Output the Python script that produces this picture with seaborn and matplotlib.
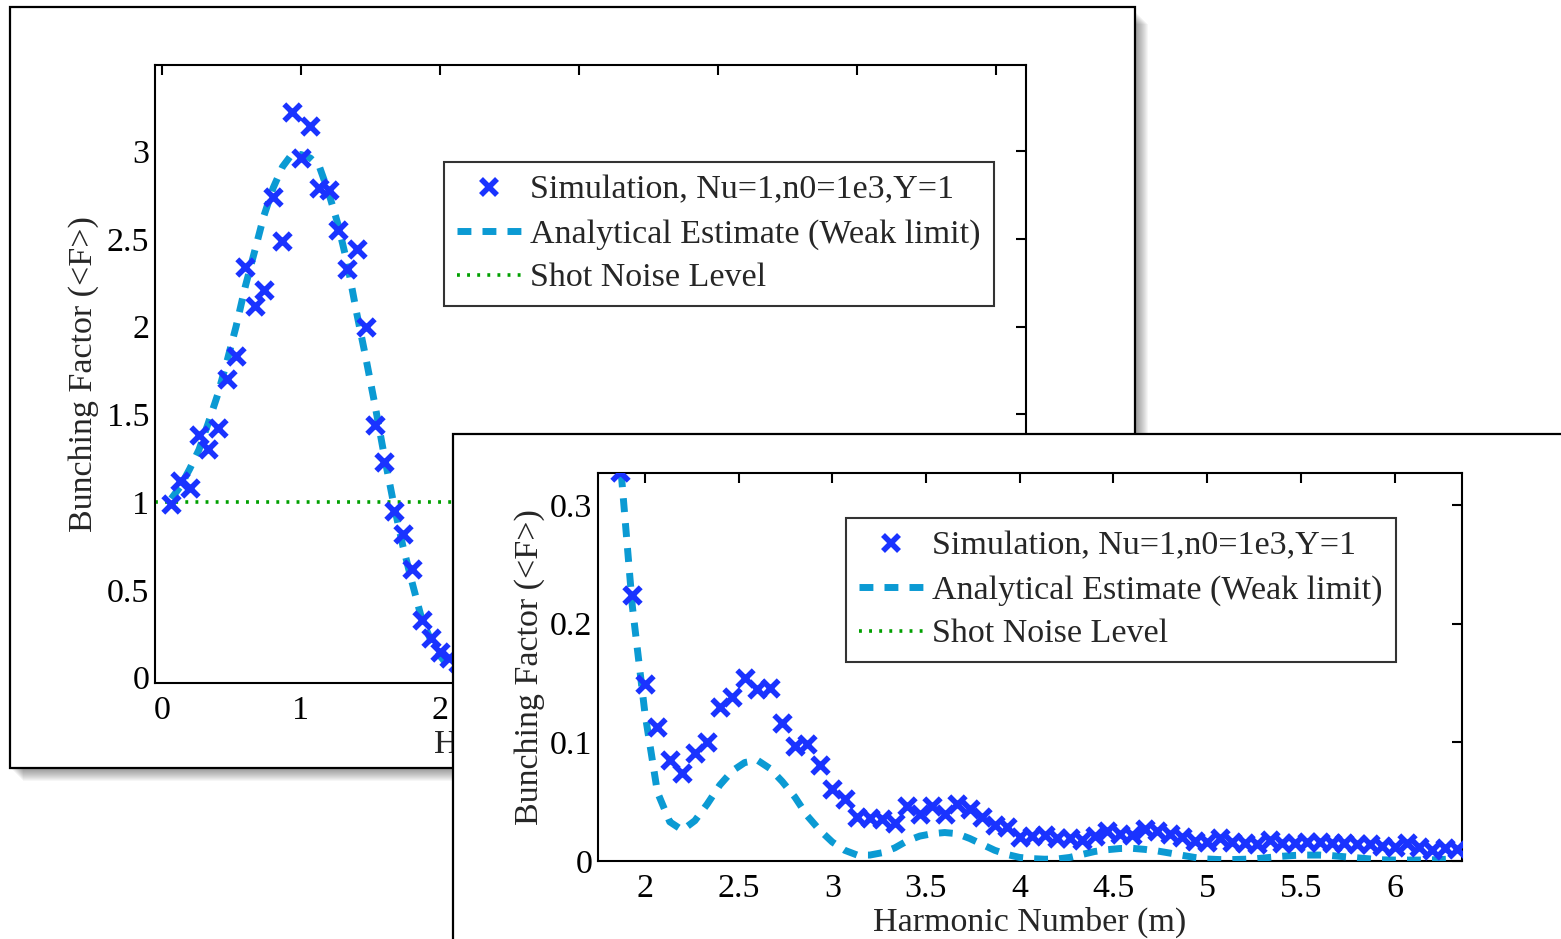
import matplotlib
matplotlib.use("Agg")
import matplotlib.pyplot as plt
import seaborn as sns
import numpy as np
from matplotlib.patches import Rectangle
from matplotlib.lines import Line2D
from matplotlib.ticker import FixedLocator, FixedFormatter

# harmonic numbers (m) of the simulation samples
harmonic = [0.067, 0.133, 0.2, 0.267, 0.333, 0.4, 0.467, 0.533, 0.6, 0.667,
            0.733, 0.8, 0.867, 0.933, 1.0, 1.067, 1.133, 1.2, 1.267, 1.333,
            1.4, 1.467, 1.533, 1.6, 1.667, 1.733, 1.8, 1.867, 1.933, 2.0,
            2.067, 2.133, 2.2, 2.267, 2.333, 2.4, 2.467, 2.533, 2.6, 2.667,
            2.733, 2.8, 2.867, 2.933, 3.0, 3.067, 3.133, 3.2, 3.267, 3.333,
            3.4, 3.467, 3.533, 3.6, 3.667, 3.733, 3.8, 3.867, 3.933, 4.0,
            4.067, 4.133, 4.2, 4.267, 4.333, 4.4, 4.467, 4.533, 4.6, 4.667,
            4.733, 4.8, 4.867, 4.933, 5.0, 5.067, 5.133, 5.2, 5.267, 5.333,
            5.4, 5.467, 5.533, 5.6, 5.667, 5.733, 5.8, 5.867, 5.933, 6.0,
            6.067, 6.133, 6.2, 6.267, 6.333]

# simulation, Nu=1, n0=1e3, Y=1
simulation = [0.99, 1.12, 1.08, 1.38, 1.30, 1.42, 1.70, 1.83, 2.34, 2.12,
              2.21, 2.74, 2.49, 3.22, 2.96, 3.14, 2.79, 2.78, 2.55, 2.33,
              2.44, 2.00, 1.44, 1.23, 0.95, 0.82, 0.62, 0.328, 0.224, 0.149,
              0.113, 0.085, 0.074, 0.091, 0.100, 0.130, 0.138, 0.154, 0.145, 0.146,
              0.116, 0.097, 0.099, 0.081, 0.061, 0.052, 0.037, 0.036, 0.035, 0.032,
              0.046, 0.040, 0.046, 0.040, 0.048, 0.044, 0.037, 0.030, 0.029, 0.020,
              0.021, 0.022, 0.019, 0.019, 0.018, 0.021, 0.025, 0.023, 0.022, 0.027,
              0.025, 0.023, 0.020, 0.017, 0.016, 0.019, 0.016, 0.015, 0.014, 0.018,
              0.015, 0.015, 0.016, 0.016, 0.015, 0.015, 0.014, 0.014, 0.013, 0.012,
              0.015, 0.012, 0.009, 0.011, 0.010]

# analytical estimate (weak limit)
analytical = [1.02, 1.09, 1.19, 1.30, 1.45, 1.61, 1.80, 2.00, 2.23, 2.43,
              2.63, 2.79, 2.91, 2.98, 2.98, 2.96, 2.91, 2.76, 2.58, 2.36,
              2.08, 1.82, 1.55, 1.26, 0.99, 0.75, 0.54, 0.34, 0.215, 0.125,
              0.058, 0.033, 0.026, 0.034, 0.048, 0.064, 0.076, 0.083, 0.085, 0.078,
              0.067, 0.054, 0.038, 0.026, 0.016, 0.009, 0.005, 0.005, 0.007, 0.011,
              0.017, 0.021, 0.023, 0.024, 0.023, 0.019, 0.014, 0.009, 0.0055, 0.003,
              0.002, 0.0015, 0.0017, 0.003, 0.0055, 0.008, 0.0095, 0.0105, 0.0107, 0.0098,
              0.0085, 0.0067, 0.0048, 0.003, 0.0017, 0.0012, 0.0012, 0.0015, 0.002, 0.003,
              0.004, 0.0047, 0.005, 0.005, 0.0045, 0.0036, 0.0027, 0.0018, 0.001, 0.0008,
              0.0008, 0.0008, 0.001, 0.0014, 0.0018]

shot_noise_x = [-0.05, 6.4]
shot_noise_y = [1, 1]

labels = ["Simulation, Nu=1,n0=1e3,Y=1",
          "Analytical Estimate (Weak limit)",
          "Shot Noise Level"]

back_yticks = [0, 0.5, 1, 1.5, 2, 2.5, 3]
back_yticklabels = ["0", "0.5", "1", "1.5", "2", "2.5", "3"]
back_xticks = [0, 1, 2, 3, 4, 5, 6]
front_yticks = [0, 0.1, 0.2, 0.3]
front_yticklabels = ["0", "0.1", "0.2", "0.3"]
front_xticks = [2, 2.5, 3, 3.5, 4, 4.5, 5, 5.5, 6]
front_xticklabels = ["2", "2.5", "3", "3.5", "4", "4.5", "5", "5.5", "6"]

SIM_BLUE = "#1a33ff"
ANA_BLUE = "#0b9ad3"
NOISE_GREEN = "#00a000"

sns.set_style("white")
plt.rcParams["font.family"] = ["Liberation Serif", "DejaVu Serif"]

W, H = 1561, 939
fig = plt.figure(figsize=(W / 100, H / 100), dpi=100)
fig.patch.set_facecolor("white")


def fig_rect(x0, y0, x1, y1):
    # pixel box (top-left origin) -> figure fraction [left, bottom, width, height]
    return [x0 / W, 1 - y1 / H, (x1 - x0) / W, (y1 - y0) / H]


def panel(x0, y0, x1, y1, z):
    # soft drop shadow
    for i in range(1, 14):
        l, b, w, h = fig_rect(x0 + i, y0 + i + 4, x1 + i, y1 + i)
        fig.add_artist(Rectangle((l, b), w, h, transform=fig.transFigure,
                                 facecolor="black", edgecolor="none",
                                 alpha=0.035, zorder=z - 0.1))
    l, b, w, h = fig_rect(x0, y0, x1, y1)
    fig.add_artist(Rectangle((l, b), w, h, transform=fig.transFigure,
                             facecolor="white", edgecolor="black",
                             linewidth=1.6, zorder=z))


FS = 24.5


def style_axes(ax):
    for s in ax.spines.values():
        s.set_linewidth(1.5)
        s.set_color("black")
        s.set_visible(True)
    ax.tick_params(direction="in", length=7, width=1.5, top=True, right=True,
                   labelsize=FS, colors="black")
    ax.tick_params(axis="x", pad=9)
    ax.tick_params(axis="y", pad=4)


def draw(ax):
    sns.lineplot(x=shot_noise_x, y=shot_noise_y, ax=ax, color=NOISE_GREEN,
                 linewidth=2.6, linestyle=(0, (0.8, 2.0)), zorder=2)
    sns.lineplot(x=harmonic, y=analytical, ax=ax, color=ANA_BLUE,
                 linewidth=5, linestyle=(0, (2, 1.6)), zorder=3)
    sns.scatterplot(x=harmonic, y=simulation, ax=ax, marker="x", s=140,
                    linewidth=4, color=SIM_BLUE, zorder=4)


def add_legend(ax, x0, y0):
    handles = [
        Line2D([], [], marker="x", ls="none", ms=11.5, mew=4, color=SIM_BLUE),
        Line2D([], [], color=ANA_BLUE, lw=5, ls=(0, (2, 1.6))),
        Line2D([], [], color=NOISE_GREEN, lw=2.6, ls=(0, (0.8, 2.0))),
    ]
    leg = ax.legend(handles, labels, loc="upper left",
                    bbox_to_anchor=(x0 / W, 1 - y0 / H),
                    bbox_transform=fig.transFigure, fontsize=FS,
                    frameon=True, fancybox=False, shadow=False,
                    handlelength=1.9, handletextpad=0.25, borderpad=0.38,
                    labelspacing=0.38, borderaxespad=0, numpoints=1)
    leg.get_frame().set_edgecolor("black")
    leg.get_frame().set_linewidth(1.5)
    leg.set_zorder(10)


# back panel: full range
panel(10, 7, 1135, 768, 0.2)
ax1 = fig.add_axes(fig_rect(155, 65, 1026, 683), zorder=0.5)
draw(ax1)
ax1.set_xlim(-0.05, 6.215)
ax1.set_ylim(-0.03, 3.49)
ax1.xaxis.set_major_locator(FixedLocator(back_xticks))
ax1.yaxis.set_major_locator(FixedLocator(back_yticks))
ax1.yaxis.set_major_formatter(FixedFormatter(back_yticklabels))
style_axes(ax1)
ax1.set_xlabel("Harmonic Number (m)", fontsize=FS, labelpad=2)
ax1.set_ylabel("Bunching Factor (<F>)", fontsize=FS, labelpad=6)
add_legend(ax1, 444, 162)

# front panel: zoom on higher harmonics
panel(453, 434, 1600, 990, 1.0)
ax2 = fig.add_axes(fig_rect(598, 473, 1462, 861), zorder=2)
draw(ax2)
ax2.set_xlim(1.75, 6.36)
ax2.set_ylim(0, 0.327)
ax2.xaxis.set_major_locator(FixedLocator(front_xticks))
ax2.xaxis.set_major_formatter(FixedFormatter(front_xticklabels))
ax2.yaxis.set_major_locator(FixedLocator(front_yticks))
ax2.yaxis.set_major_formatter(FixedFormatter(front_yticklabels))
style_axes(ax2)
ax2.set_xlabel("Harmonic Number (m)", fontsize=FS, labelpad=2)
ax2.set_ylabel("Bunching Factor (<F>)", fontsize=FS, labelpad=4)
add_legend(ax2, 846, 518)

fig.savefig("out.png", dpi=100, facecolor="white")
